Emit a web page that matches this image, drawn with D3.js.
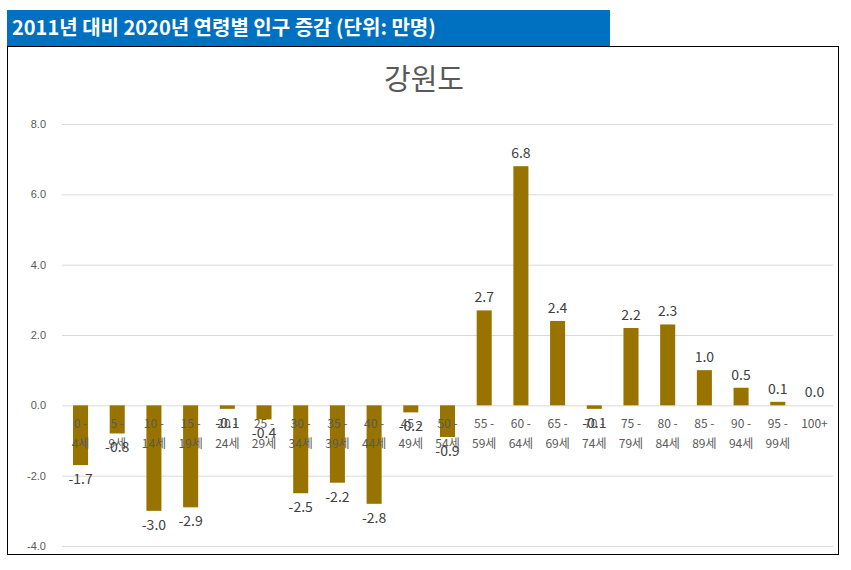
<!DOCTYPE html>
<html><head><meta charset="utf-8">
<script src="https://cdn.jsdelivr.net/npm/d3@7"></script>
<style>body{margin:0;background:#fff;font-family:"Noto Sans CJK KR","Noto Sans",sans-serif}</style>
</head><body>
<svg id="c" width="851" height="570"></svg>
<script>
const categories = [["0 -","4세"],["5 -","9세"],["10 -","14세"],["15 -","19세"],["20 -","24세"],["25 -","29세"],["30 -","34세"],["35 -","39세"],["40 -","44세"],["45 -","49세"],["50 -","54세"],["55 -","59세"],["60 -","64세"],["65 -","69세"],["70 -","74세"],["75 -","79세"],["80 -","84세"],["85 -","89세"],["90 -","94세"],["95 -","99세"],["100+",""]];
const values = [-1.7,-0.8,-3.0,-2.9,-0.1,-0.4,-2.5,-2.2,-2.8,-0.2,-0.9,2.7,6.8,2.4,-0.1,2.2,2.3,1.0,0.5,0.1,0.0];
const yTicks = [-4,-2,0,2,4,6,8];
const fmt = d => d.toFixed(1);

const svg = d3.select("#c");
svg.append("rect").attr("x",7).attr("y",10).attr("width",603).attr("height",36).attr("fill","#0070C0");
svg.append("text").attr("x",12).attr("y",35).attr("fill","#fff").attr("font-size",20).attr("font-weight","bold")
  .text("2011년 대비 2020년 연령별 인구 증감 (단위: 만명)");
svg.append("rect").attr("x",7.5).attr("y",46.5).attr("width",831).attr("height",508).attr("fill","none").attr("stroke","#000");
svg.append("text").attr("x",424).attr("y",90).attr("text-anchor","middle").attr("font-size",29).attr("fill","#595959").text("강원도");

const x = d3.scaleBand().domain(d3.range(values.length)).range([62,833]).paddingInner(0.59).paddingOuter(0.3);
const y = d3.scaleLinear().domain([-4,8]).range([546,124]);

const ax = svg.append("g").attr("transform","translate(62,0)")
  .call(d3.axisLeft(y).tickValues(yTicks).tickFormat(fmt).tickSize(-771));
ax.select(".domain").remove();
ax.selectAll("line").attr("stroke","#d9d9d9");
ax.selectAll("text").attr("x",-16).attr("fill","#595959").attr("font-size",11).attr("font-family","Liberation Sans, sans-serif");

svg.selectAll(".bar").data(values).join("rect")
  .attr("x",(d,i)=>x(i)).attr("width",x.bandwidth())
  .attr("y",d=>y(Math.max(0,d))).attr("height",d=>Math.abs(y(d)-y(0)))
  .attr("fill","#997300");

const cl = svg.append("g").attr("font-size",12).attr("fill","#595959").attr("text-anchor","middle");
categories.forEach((c,i)=>{
  const cx = x(i)+x.bandwidth()/2;
  cl.append("text").attr("x",cx).attr("y",428).text(c[0]);
  if(c[1]) cl.append("text").attr("x",cx).attr("y",448).text(c[1]);
});

svg.append("g").selectAll("text").data(values).join("text")
  .attr("x",(d,i)=>x(i)+x.bandwidth()/2)
  .attr("y",d=>d>=0? y(d)-8 : y(d)+19)
  .attr("text-anchor","middle").attr("font-size",14).attr("fill","#404040")
  .text(fmt);
</script>
</body></html>
